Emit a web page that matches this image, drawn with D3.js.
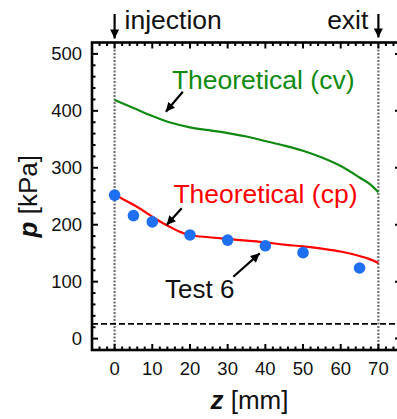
<!DOCTYPE html>
<html>
<head>
<meta charset="utf-8">
<script src="https://cdn.jsdelivr.net/npm/d3@7"></script>
<style>
  html, body { margin: 0; padding: 0; background: #fff; }
  svg { display: block; font-family: "Liberation Sans", Arial, sans-serif; }
</style>
</head>
<body>
<svg id="chart" width="397" height="419"></svg>
<script>
// Measured pressure along the channel (Test 6)
const testZ = [0, 5, 10, 20, 30, 40, 50, 65];
const testP = [252, 216, 205, 182, 173, 163, 151, 124];

// Theoretical profile, constant-volume model
const cvZ = [0, 5, 10, 15, 20, 25, 30, 35, 40, 45, 50, 55, 60, 65, 68, 70];
const cvP = [419, 405, 391, 379, 371, 366, 361, 355, 347, 339, 330, 318, 303, 283, 270, 257];

// Theoretical profile, constant-pressure model
const cpZ = [0, 2.5, 5, 7.5, 10, 12.5, 15, 17.5, 20, 25, 30, 35, 40, 45, 50, 55, 60, 65, 67.5, 70];
const cpP = [252, 244, 235, 225, 214, 204, 195, 187, 182, 178, 175, 172, 169, 165, 162, 158, 153, 145, 140, 133];

// Reference lines: injection / exit positions and ambient level
const markerZ = [0, 70];
const ambientP = 26;

// Axis ticks
const xMajorTicks = [0, 10, 20, 30, 40, 50, 60, 70];
const yMajorTicks = [0, 100, 200, 300, 400, 500];

const svg = d3.select("#chart");
const pL = 92, pR = 401, pT = 42.5, pB = 350;

const x = d3.scaleLinear().domain([-6, 76]).range([pL, pR]);
const y = d3.scaleLinear().domain([-20, 520]).range([pB, pT]);

const defs = svg.append("defs");
defs.append("marker")
  .attr("id", "head")
  .attr("viewBox", "0 0 10 10")
  .attr("refX", 10).attr("refY", 5)
  .attr("markerUnits", "userSpaceOnUse")
  .attr("markerWidth", 10).attr("markerHeight", 9)
  .attr("orient", "auto")
  .append("path").attr("d", "M0,0 L10,5 L0,10 Z").attr("fill", "#000");

// ---- reference lines ----
svg.selectAll("line.marker").data(markerZ).enter().append("line")
  .attr("class", "marker")
  .attr("x1", d => x(d)).attr("x2", d => x(d))
  .attr("y1", pT).attr("y2", pB)
  .attr("stroke", "#707070").attr("stroke-width", 2.2)
  .attr("stroke-dasharray", "2,1.5");

svg.append("line")
  .attr("x1", pL).attr("x2", pR)
  .attr("y1", y(ambientP)).attr("y2", y(ambientP))
  .attr("stroke", "#000").attr("stroke-width", 1.8)
  .attr("stroke-dasharray", "6,3");

// ---- curves ----
const line = d3.line().curve(d3.curveMonotoneX);
svg.append("path")
  .attr("d", line(cvZ.map((z, i) => [x(z), y(cvP[i])])))
  .attr("fill", "none").attr("stroke", "#108a10").attr("stroke-width", 2.2);
svg.append("path")
  .attr("d", line(cpZ.map((z, i) => [x(z), y(cpP[i])])))
  .attr("fill", "none").attr("stroke", "#ff0000").attr("stroke-width", 2.2);

// ---- measured points ----
svg.selectAll("circle.pt").data(testZ).enter().append("circle")
  .attr("class", "pt")
  .attr("cx", d => x(d))
  .attr("cy", (d, i) => y(testP[i]))
  .attr("r", 5.8)
  .attr("fill", "#1f6ff2");

// ---- frame and ticks ----
const frame = svg.append("g");
frame.append("rect")
  .attr("x", pL).attr("y", pT)
  .attr("width", pR - pL).attr("height", pB - pT)
  .attr("fill", "none").attr("stroke", "#000").attr("stroke-width", 2.6);

const xMinor = d3.range(-4, 76, 2).filter(v => !xMajorTicks.includes(v));
const yMinor = d3.range(-20, 521, 20).filter(v => !yMajorTicks.includes(v) && v > -20 && v < 520);
const majorLen = 6, minorLen = 3.5;

function xTicks(vals, len) {
  vals.forEach(v => {
    frame.append("line").attr("x1", x(v)).attr("x2", x(v)).attr("y1", pB).attr("y2", pB - len)
      .attr("stroke", "#000").attr("stroke-width", 2);
    frame.append("line").attr("x1", x(v)).attr("x2", x(v)).attr("y1", pT).attr("y2", pT + len)
      .attr("stroke", "#000").attr("stroke-width", 2);
  });
}
function yTicks(vals, len) {
  vals.forEach(v => {
    frame.append("line").attr("x1", pL).attr("x2", pL + len).attr("y1", y(v)).attr("y2", y(v))
      .attr("stroke", "#000").attr("stroke-width", 2);
    frame.append("line").attr("x1", pR).attr("x2", pR - len).attr("y1", y(v)).attr("y2", y(v))
      .attr("stroke", "#000").attr("stroke-width", 2);
  });
}
xTicks(xMajorTicks, majorLen);
xTicks(xMinor, minorLen);
yTicks(yMajorTicks, majorLen);
yTicks(yMinor, minorLen);

// tick labels
svg.selectAll("text.xl").data(xMajorTicks).enter().append("text")
  .attr("x", d => x(d)).attr("y", 375)
  .attr("text-anchor", "middle").attr("font-size", 18.5).attr("fill", "#111")
  .text(d => d);
svg.selectAll("text.yl").data(yMajorTicks).enter().append("text")
  .attr("x", 82).attr("y", d => y(d) + 6.6)
  .attr("text-anchor", "end").attr("font-size", 18.5).attr("fill", "#111")
  .text(d => d);

// axis titles
const xt = svg.append("text").attr("x", x(35) + 3).attr("y", 409)
  .attr("text-anchor", "middle").attr("font-size", 26).attr("fill", "#111");
xt.append("tspan").attr("font-style", "italic").attr("font-weight", "bold").text("z");
xt.append("tspan").text(" [mm]");

const yt = svg.append("text")
  .attr("transform", `translate(37,${(pT + pB) / 2}) rotate(-90)`)
  .attr("text-anchor", "middle").attr("font-size", 26).attr("fill", "#111");
yt.append("tspan").attr("font-style", "italic").attr("font-weight", "bold").text("p");
yt.append("tspan").text(" [kPa]");

// ---- annotations ----
function arrow(x1, y1, x2, y2, w) {
  svg.append("line")
    .attr("x1", x1).attr("y1", y1).attr("x2", x2).attr("y2", y2)
    .attr("stroke", "#000").attr("stroke-width", w || 2.2)
    .attr("marker-end", "url(#head)");
}

// injection / exit markers above the frame
arrow(x(0), 14, x(0), 38.5);
arrow(x(70), 14, x(70), 37.5);
svg.append("text").attr("x", x(0) + 10).attr("y", 29)
  .attr("font-size", 26.5).attr("fill", "#111").text("injection");
svg.append("text").attr("x", x(70) - 10).attr("y", 29).attr("text-anchor", "end")
  .attr("font-size", 26.5).attr("fill", "#111").text("exit");

svg.append("text").attr("x", x(15.2)).attr("y", y(438))
  .attr("font-size", 26.5).attr("fill", "#108a10").text("Theoretical (cv)");
arrow(x(18.1), y(433.6), x(13.6), y(398.5));

svg.append("text").attr("x", x(15.6)).attr("y", y(237.6))
  .attr("font-size", 26.5).attr("fill", "#ff0000").text("Theoretical (cp)");
arrow(x(17.8), y(228.9), x(13.8), y(199.5));

svg.append("text").attr("x", x(13.4)).attr("y", y(71.3))
  .attr("font-size", 26).attr("fill", "#111").text("Test 6");
arrow(x(31.5), y(108.7), x(38.5), y(149.8));
</script>
</body>
</html>
